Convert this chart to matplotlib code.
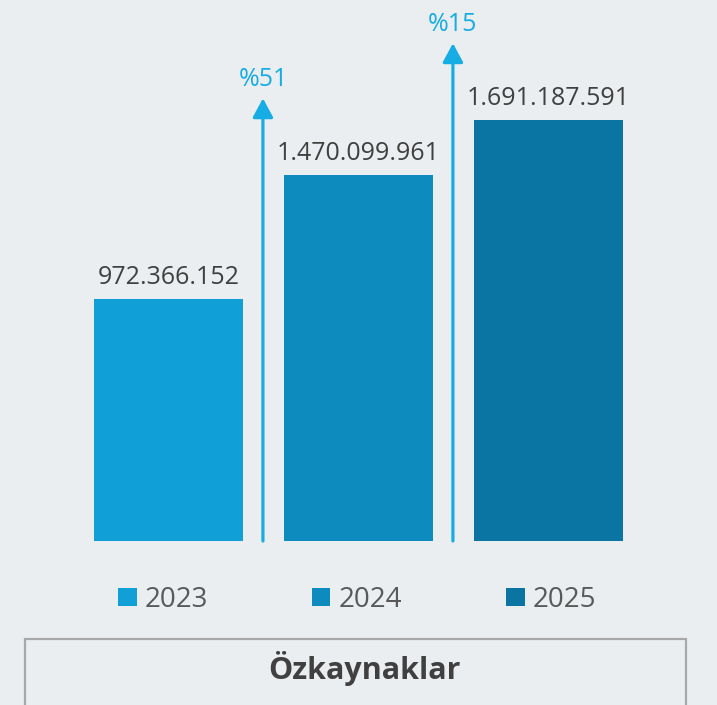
import matplotlib.pyplot as plt
from matplotlib.patches import Rectangle

plt.rcParams['font.family'] = ['Open Sans', 'DejaVu Sans']

years = ['2023', '2024', '2025']
values = [972366152, 1470099961, 1691187591]
colors = ['#109fd7', '#0e8bbe', '#0a74a3']
bg = '#ebeef0'
arrow_color = '#16ace4'

def tr_format(v):
    # Turkish thousands separator
    return '{:,}'.format(v).replace(',', '.')

vals_m = [v / 1e6 for v in values]

fig = plt.figure(figsize=(7.17, 7.05), dpi=100, facecolor=bg)
ax = fig.add_axes([0, 0.2326, 1, 0.7674])
ax.set_facecolor(bg)
ax.set_xlim(-0.887, 2.887)
ax.set_ylim(0, 2173)
ax.axis('off')

x = range(len(years))
bars = ax.bar(x, vals_m, width=0.785, color=colors, label=years)

for rect, v in zip(bars, values):
    ax.annotate(tr_format(v),
                xy=(rect.get_x() + rect.get_width() / 2, rect.get_height()),
                xytext=(0, 11), textcoords='offset points',
                ha='center', va='baseline', fontsize=18, color='#404040')

# growth arrows between consecutive years
for i in range(1, len(values)):
    growth = (values[i] - values[i - 1]) / values[i - 1] * 100
    xa = i - 0.503
    tip = vals_m[i] + 308
    ax.annotate('', xy=(xa, tip), xytext=(xa, 0),
                arrowprops=dict(arrowstyle='-|>,head_width=0.62,head_length=1.15',
                                lw=2.3, color=arrow_color, shrinkA=0, shrinkB=0))
    ax.annotate('%{:.0f}'.format(growth), xy=(xa, tip), xytext=(0, 9),
                textcoords='offset points', ha='center', va='baseline',
                fontsize=18, color=arrow_color)

handles = [bars[i] for i in range(len(years))]
leg = fig.legend(handles, years, loc='center', bbox_to_anchor=(0.4985, 0.149),
                 ncol=3, frameon=False, fontsize=20, handlelength=0.65,
                 handleheight=0.65, handletextpad=0.3, columnspacing=3.75)
for t in leg.get_texts():
    t.set_color('#595959')

fig.patches.append(Rectangle((25 / 717, -0.01), 661 / 717, 66 / 705 + 0.01,
                             transform=fig.transFigure, fill=False,
                             edgecolor='#a8a8a8', lw=1.6))
fig.text(364 / 717, 36 / 705, 'Özkaynaklar', ha='center', va='center',
         fontsize=22, fontweight='bold', color='#404040')

fig.savefig('out.png', dpi=100, facecolor=bg)
